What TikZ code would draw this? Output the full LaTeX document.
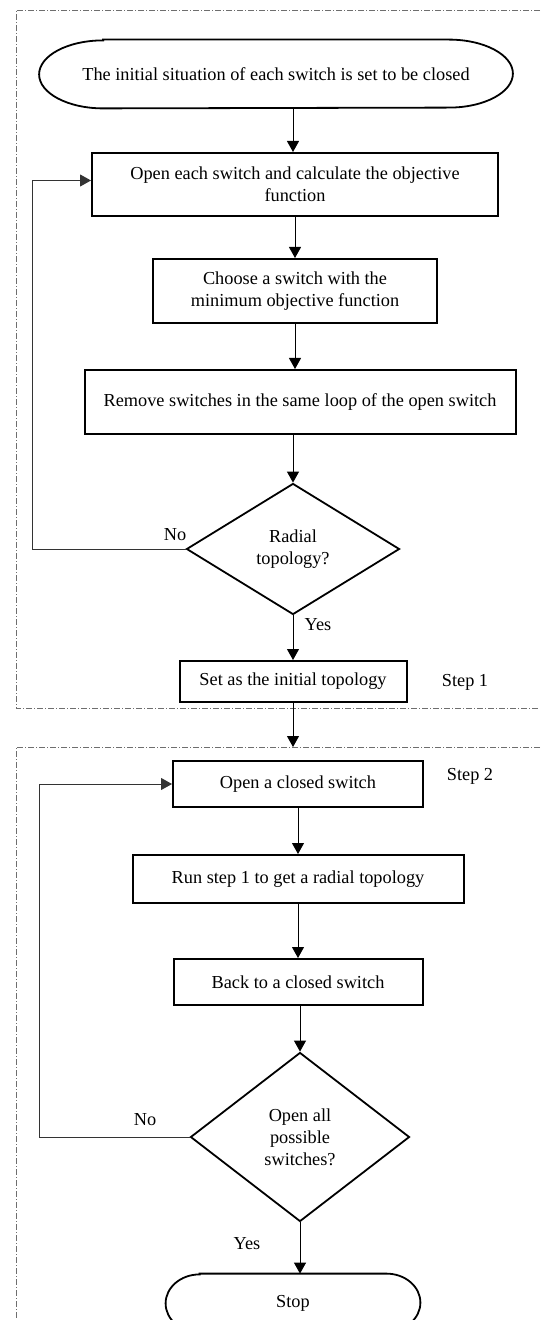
\documentclass[tikz,border=0pt]{standalone}
\usepackage{fontspec}
\setmainfont{Liberation Serif}
\usepackage{tikz}
\usetikzlibrary{shapes,arrows.meta,positioning}
\definecolor{framegray}{RGB}{110, 110, 110}

\begin{document}
\begin{tikzpicture}[x=0.5pt, y=-0.5pt,
    every node/.style={font=\fontsize{9.15}{11}\selectfont},
    procbox/.style={draw, line width=1pt, rectangle, align=center, inner sep=0pt},
    decide/.style={draw, line width=0.9pt, diamond, align=center, inner sep=0pt},
    termnode/.style={align=center, inner sep=0pt},
    flowarrow/.style={-{Triangle[width=6pt,length=5.5pt]}, line width=0.5pt},
    loopline/.style={-{Triangle[width=6pt,length=5.5pt]}, line width=0.5pt, black!80},
    frame/.style={framegray, line width=0.4pt, dash pattern=on 3pt off 1pt on 0.5pt off 1pt}]
\useasboundingbox (0,0) rectangle (540,1320);
\clip (0,0) rectangle (540,1320);

% Dash-dot frames of the two steps
\draw[frame] (540,10) -- (16,10) -- (16,708) -- (540,708);
\draw[frame] (540,747) -- (16,747) -- (16,1320);
\coordinate (frametop) at (295,747);

% Step 1
\node[termnode, minimum width=236.5pt, minimum height=34pt] (init) at (276,74)
    {The initial situation of each switch is set to be closed};
\draw[line width=0.9pt] ([xshift=32pt]init.north west) -- ([xshift=-32pt]init.north east)
    arc[start angle=90, end angle=-90, x radius=32pt, y radius=17pt]
    -- ([xshift=32pt]init.south west)
    arc[start angle=270, end angle=90, x radius=32pt, y radius=17pt] -- cycle;
\node[procbox, minimum width=203pt, minimum height=31.5pt] (openeach) at (295,184.5)
    {Open each switch and calculate the objective\\function};
\node[procbox, minimum width=142pt, minimum height=32pt] (choose) at (295,291)
    {Choose a switch with the\\minimum objective function};
\node[procbox, minimum width=215.5pt, minimum height=32pt] (remove) at (300,402)
    {Remove switches in the same loop of the open switch};
\node[decide, minimum width=106.5pt, minimum height=65.5pt] (radial) at (293,549)
    {Radial\\topology?};
\node[procbox, minimum width=113.5pt, minimum height=20.5pt] (setinit) at (293,681.5)
    {Set as the initial topology};
\node (stepone) at (465,682) {Step 1};

\draw[flowarrow] (init.south -| openeach.north) ++(-2,0) -- ([xshift=-1pt]openeach.north);
\draw[flowarrow] (openeach.south) -- (choose.north);
\draw[flowarrow] (choose.south) -- (choose.south |- remove.north);
\draw[flowarrow] (remove.south -| radial.north) -- (radial.north);
\draw[flowarrow] (radial.south) -- (setinit.north);
\draw[flowarrow] (setinit.south) -- (setinit.south |- frametop);
\draw[loopline] (radial.west) -- ++(-153,0) |- ([yshift=2pt]openeach.west);
\node (noone) at (175,535) {No};
\node (yesone) at (318,625) {Yes};

% Step 2
\node[procbox, minimum width=125pt, minimum height=23pt] (openclosed) at (298,784)
    {Open a closed switch};
\node (steptwo) at (470,776) {Step 2};
\node[procbox, minimum width=165.5pt, minimum height=24pt] (runstep) at (298,879)
    {Run step 1 to get a radial topology};
\node[procbox, minimum width=124.5pt, minimum height=23pt] (backclosed) at (298,982)
    {Back to a closed switch};
\node[decide, minimum width=109.5pt, minimum height=84.5pt] (openall) at (300,1137)
    {Open all\\possible\\switches?};
\node[termnode, minimum width=127pt, minimum height=29pt] (stop) at (293,1303) {Stop};
\draw[line width=0.9pt] ([xshift=17pt]stop.north west) -- ([xshift=-17pt]stop.north east)
    arc[start angle=90, end angle=-90, x radius=17pt, y radius=14.5pt]
    -- ([xshift=17pt]stop.south west)
    arc[start angle=270, end angle=90, x radius=17pt, y radius=14.5pt] -- cycle;

\draw[flowarrow] (openclosed.south) -- (runstep.north);
\draw[flowarrow] (runstep.south) -- (backclosed.north);
\draw[flowarrow] (backclosed.south -| openall.north) -- (openall.north);
\draw[flowarrow] (openall.south) -- (openall.south |- stop.north);
\draw[loopline] (openall.west) -- ++(-150,0) |- (openclosed.west);
\node (notwo) at (145,1120) {No};
\node (yestwo) at (247,1244) {Yes};
\end{tikzpicture}
\end{document}
